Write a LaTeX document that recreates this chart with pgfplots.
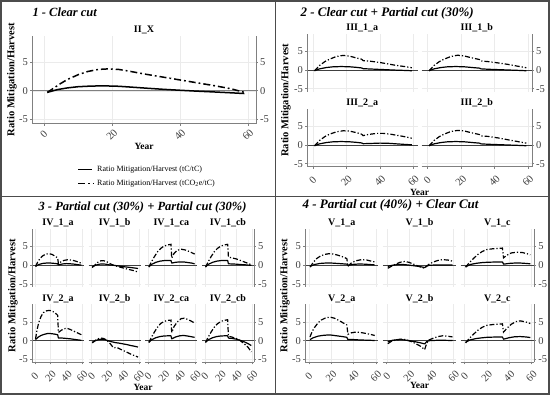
\documentclass[border=0pt]{standalone}
\usepackage{pgfplots}
\pgfplotsset{compat=1.18}
\usepackage{fontspec}
\setmainfont{Liberation Serif}
\tikzset{
  sol/.style={black, line width=1.2pt, line join=round},
  dd/.style={black, line width=1.2pt, dash pattern=on 5pt off 2pt on 1.2pt off 2pt},
  solA/.style={black, line width=1.5pt, line join=round},
  ddA/.style={black, line width=1.5pt, dash pattern=on 7pt off 3pt on 1.8pt off 3pt},
  spine/.style={draw=black!50, line width=0.6pt},
  zl/.style={draw=black!75, line width=0.8pt},
  zlA/.style={draw=black!50, line width=1.3pt},
  border/.style={draw=black!70, line width=1.6pt},
}
\newcommand\lspine{\draw[spine] (rel axis cs:0,0) -- (rel axis cs:0,1);}
\newcommand\rspine{\draw[spine] (rel axis cs:1,0) -- (rel axis cs:1,1);}
\newcommand\bspine{\draw[spine] (rel axis cs:0,0) -- (rel axis cs:1,0);}
\newcommand\zline{\draw[zl] (axis cs:-3.5,0) -- (axis cs:62.4,0);}
\pgfplotsset{
  facet/.style={scale only axis, clip=false,
    xmin=-3.5, xmax=62.4, ymin=-5.8, ymax=9.7,
    axis line style={draw=none}, tick align=outside, major tick length=2pt,
    tick style={draw=black!50, line width=0.5pt},
    xtick={0,20,40,60}, ytick={-5,0,5},
    grid=major, grid style={draw=black!8, line width=0.4pt},
    /pgf/number format/assume math mode=true,
    ticklabel style={font=\fontsize{10.5}{10.5}\selectfont, text=black!75},
    yticklabel style={inner sep=2pt},
    title style={font=\fontsize{10}{10}\selectfont\bfseries, anchor=center},
  },
  xtl/.style={xticklabel style={anchor=center, yshift=#1, rotate=45}},
  bottomrow/.style={xticklabels={0,20,40,60}, xtick pos=left, xtl=-12pt},
  toprow/.style={xticklabels={}, xtick style={draw=none}},
  leftcol/.style={yticklabels={-5,0,5}, ytick pos=left, yticklabel pos=left},
  rightcol/.style={yticklabels={-5,0,5}, ytick pos=right, yticklabel pos=right},
  midcol/.style={yticklabels={}, ytick style={draw=none}},
}
\begin{document}
\begin{tikzpicture}[x=1pt,y=1pt]
\path[use as bounding box] (0,0) rectangle (550,395);
\fill[white] (0,0) rectangle (550,395);

% ---------------- Panel 1 ----------------
\begin{axis}[facet, xticklabels={0,20,40,60}, xtick pos=left, xtl=-9pt, leftcol, at={(32pt,271.4pt)}, anchor=south west, width=224pt, height=87.9pt, title={II\_X}]
\draw[zlA] (axis cs:-3.5,0) -- (axis cs:62.4,0);
\addplot[solA] coordinates {(1,-0.3) (4,0.2) (7,0.5) (10,0.7) (14,0.82) (18,0.85) (22,0.78) (26,0.62) (30,0.45) (35,0.25) (40,0.08) (45,-0.08) (50,-0.22) (55,-0.37) (59,-0.5)};
\addplot[ddA] coordinates {(1,-0.3) (3,0.5) (5,1.3) (7,2.0) (10,2.8) (13,3.4) (16,3.75) (19,3.85) (22,3.75) (25,3.45) (30,2.9) (35,2.4) (40,1.9) (45,1.4) (50,0.9) (55,0.35) (59,-0.3)};
\lspine \rspine \bspine
\end{axis}
\begin{axis}[facet, toprow, rightcol, grid=none, at={(32pt,271.4pt)}, anchor=south west, width=224pt, height=87.9pt]
\end{axis}
\draw[solA] (78,225.7) -- (92,225.7);
\node[anchor=west, font=\fontsize{8}{9}\selectfont, inner sep=0pt] at (97,225.7) {Ratio Mitigation/Harvest (tC/tC)};
\draw[ddA] (78,211.3) -- (93,211.3);
\node[anchor=west, font=\fontsize{8}{9}\selectfont, inner sep=0pt] at (97,211.3) {Ratio Mitigation/Harvest (tCO\textsubscript{2}e/tC)};
\node[anchor=west, font=\fontsize{12.5}{14}\selectfont\bfseries\itshape] at (29,382.5) {1 - Clear cut};
\node[rotate=90, font=\fontsize{10.5}{12}\selectfont\bfseries] at (12,315.3) {Ratio Mitigation/Harvest};
\node[font=\fontsize{9.5}{10}\selectfont\bfseries] at (144,249) {Year};

% ---------------- Panel 2 ----------------
\begin{axis}[facet, toprow, leftcol, at={(307pt,303.3pt)}, anchor=south west, width=110.5pt, height=58pt, title={III\_1\_a}]
\zline
\addplot[sol] coordinates {(1,-0.2) (4,0.3) (8,0.65) (12,0.85) (17,0.92) (22,0.85) (26,0.7) (29,0.55) (30,0.35) (35,0.25) (40,0.15) (45,0.05) (50,-0.05) (55,-0.12) (59,-0.2)};
\addplot[dd] coordinates {(1,-0.2) (4,1.2) (7,2.2) (10,2.9) (14,3.6) (18,3.9) (22,3.7) (26,3.2) (29,2.9) (30,2.5) (35,2.3) (40,2.0) (45,1.6) (50,1.2) (55,0.9) (59,0.6)};
\lspine
\end{axis}
\begin{axis}[facet, toprow, rightcol, at={(421.5pt,303.3pt)}, anchor=south west, width=110.5pt, height=58pt, title={III\_1\_b}]
\zline
\addplot[sol] coordinates {(1,-0.2) (4,0.3) (8,0.65) (12,0.85) (17,0.92) (22,0.85) (27,0.65) (31,0.5) (32,0.3) (36,0.2) (42,0.1) (48,0) (54,-0.1) (59,-0.2)};
\addplot[dd] coordinates {(1,-0.2) (4,1.2) (7,2.2) (10,2.9) (14,3.6) (18,3.95) (22,3.75) (26,3.3) (31,2.8) (32,2.4) (36,2.25) (42,1.9) (48,1.5) (54,1.0) (59,0.6)};
\rspine
\end{axis}
\begin{axis}[facet, bottomrow, leftcol, at={(307pt,228.3pt)}, anchor=south west, width=110.5pt, height=58pt, title={III\_2\_a}]
\zline
\addplot[sol] coordinates {(1,-0.2) (4,0.3) (8,0.65) (12,0.85) (17,0.92) (22,0.85) (26,0.7) (29,0.55) (30,0.35) (34,0.4) (40,0.5) (45,0.45) (50,0.3) (55,0.15) (59,0.05)};
\addplot[dd] coordinates {(1,-0.2) (4,1.2) (7,2.2) (10,2.9) (14,3.5) (18,3.8) (22,3.7) (26,3.3) (29,2.9) (30,2.5) (33,2.8) (38,3.1) (42,3.1) (46,2.9) (50,2.6) (55,2.2) (59,1.8)};
\lspine \bspine
\end{axis}
\begin{axis}[facet, bottomrow, rightcol, at={(421.5pt,228.3pt)}, anchor=south west, width=110.5pt, height=58pt, title={III\_2\_b}]
\zline
\addplot[sol] coordinates {(1,-0.2) (4,0.3) (8,0.65) (12,0.85) (17,0.92) (22,0.85) (27,0.65) (31,0.5) (32,0.3) (36,0.2) (42,0.1) (48,0) (54,-0.1) (59,-0.2)};
\addplot[dd] coordinates {(1,-0.2) (4,1.2) (7,2.2) (10,2.9) (14,3.6) (18,3.9) (22,3.75) (26,3.3) (31,2.8) (32,2.4) (36,2.3) (42,1.9) (48,1.4) (54,0.9) (59,0.5)};
\rspine \bspine
\end{axis}
\node[anchor=west, font=\fontsize{13}{14}\selectfont\bfseries\itshape] at (297,381.7) {2 - Clear cut + Partial cut (30\%)};
\node[rotate=90, font=\fontsize{10.5}{12}\selectfont\bfseries] at (286,294.8) {Ratio Mitigation/Harvest};
\node[font=\fontsize{9.5}{10}\selectfont\bfseries] at (419.5,203) {Year};

% ---------------- Panel 3 ----------------
\begin{axis}[facet, toprow, leftcol, at={(32pt,108pt)}, anchor=south west, width=52pt, height=58pt, title={IV\_1\_a}]
\zline
\addplot[sol] coordinates {(1,-0.3) (5,0.2) (10,0.5) (15,0.6) (20,0.6) (25,0.5) (29,0.4) (30,0.1) (35,0.35) (40,0.45) (45,0.4) (50,0.3) (55,0.15) (59,0.05)};
\addplot[dd] coordinates {(1,-0.3) (4,1.0) (7,1.9) (10,2.5) (14,3.0) (18,3.1) (22,2.9) (26,2.4) (29,2.0) (30,0.4) (33,0.9) (37,1.3) (42,1.5) (47,1.4) (52,1.1) (56,0.8) (59,0.5)};
\lspine
\end{axis}
\begin{axis}[facet, toprow, midcol, at={(88.7pt,108pt)}, anchor=south west, width=52pt, height=58pt, title={IV\_1\_b}]
\zline
\addplot[sol] coordinates {(1,-0.4) (5,0) (10,0.3) (14,0.35) (18,0.3) (23,0.1) (28,0) (35,-0.2) (42,-0.4) (50,-0.6) (59,-0.85)};
\addplot[dd] coordinates {(1,-0.6) (4,0) (8,0.8) (12,1.2) (15,1.25) (19,1.0) (23,0.5) (28,0) (33,-0.3) (40,-0.7) (47,-1.1) (53,-1.4) (59,-1.8)};
\end{axis}
\begin{axis}[facet, toprow, midcol, at={(145.3pt,108pt)}, anchor=south west, width=52pt, height=58pt, title={IV\_1\_ca}]
\zline
\addplot[sol] coordinates {(1,-0.4) (5,0.3) (10,0.8) (15,1.1) (20,1.25) (25,1.3) (29,1.3) (30,0.6) (35,0.8) (40,0.9) (45,0.9) (50,0.75) (55,0.6) (59,0.4)};
\addplot[dd] coordinates {(1,-0.5) (4,0.8) (8,2.3) (12,3.6) (16,4.5) (20,5.1) (24,5.4) (29,5.6) (30,1.9) (33,3.2) (37,4.0) (42,4.3) (47,4.1) (52,3.7) (56,3.3) (59,3.0)};
\end{axis}
\begin{axis}[facet, toprow, rightcol, at={(202pt,108pt)}, anchor=south west, width=52pt, height=58pt, title={IV\_1\_cb}]
\zline
\addplot[sol] coordinates {(1,-0.4) (5,0.3) (10,0.8) (15,1.1) (20,1.25) (25,1.3) (29,1.3) (30,0.4) (35,0.35) (40,0.3) (45,0.2) (50,0.15) (55,0.05) (59,0)};
\addplot[dd] coordinates {(1,-0.5) (4,0.8) (8,2.3) (12,3.6) (16,4.5) (20,5.1) (24,5.4) (29,5.6) (30,2.2) (34,2.0) (40,1.7) (45,1.3) (50,0.9) (55,0.5) (59,0.1)};
\rspine
\end{axis}
\begin{axis}[facet, bottomrow, leftcol, at={(32pt,32.6pt)}, anchor=south west, width=52pt, height=58pt, title={IV\_2\_a}]
\zline
\addplot[sol] coordinates {(1,0.3) (4,0.9) (8,1.4) (12,1.7) (16,1.9) (20,1.9) (24,1.8) (29,1.6) (30,0.7) (35,0.7) (40,0.6) (45,0.5) (50,0.35) (55,0.2) (59,0.1)};
\addplot[dd] coordinates {(1,0.5) (3,3.0) (5,4.8) (8,6.5) (11,7.5) (15,8.0) (19,8.1) (23,7.8) (27,7.2) (29,6.8) (30,2.2) (33,2.7) (37,3.2) (41,3.3) (45,3.0) (50,2.5) (55,2.0) (59,1.6)};
\lspine \bspine
\end{axis}
\begin{axis}[facet, bottomrow, midcol, at={(88.7pt,32.6pt)}, anchor=south west, width=52pt, height=58pt, title={IV\_2\_b}]
\zline
\addplot[sol] coordinates {(1,-0.4) (5,0) (9,0.3) (13,0.4) (17,0.3) (21,0) (25,-0.25) (30,-0.5) (35,-0.65) (40,-0.85) (45,-1.05) (50,-1.3) (55,-1.5) (59,-1.7)};
\addplot[dd] coordinates {(1,-0.6) (5,0.1) (9,0.55) (12,0.7) (15,0.6) (19,0.2) (23,-0.6) (26,-1.4) (28,-1.9) (32,-1.8) (37,-2.3) (42,-2.8) (47,-3.3) (52,-3.8) (56,-4.1) (59,-4.4)};
\bspine
\end{axis}
\begin{axis}[facet, bottomrow, midcol, at={(145.3pt,32.6pt)}, anchor=south west, width=52pt, height=58pt, title={IV\_2\_ca}]
\zline
\addplot[sol] coordinates {(1,-0.4) (5,0.3) (10,0.8) (15,1.1) (20,1.25) (25,1.3) (29,1.3) (30,0.5) (35,1.0) (40,1.3) (45,1.4) (50,1.25) (55,1.05) (59,0.9)};
\addplot[dd] coordinates {(1,-0.5) (4,0.8) (8,2.3) (12,3.6) (16,4.6) (20,5.1) (24,5.4) (29,5.5) (30,2.2) (33,3.8) (37,5.0) (42,5.9) (46,6.0) (50,5.7) (55,5.2) (59,4.7)};
\bspine
\end{axis}
\begin{axis}[facet, bottomrow, rightcol, at={(202pt,32.6pt)}, anchor=south west, width=52pt, height=58pt, title={IV\_2\_cb}]
\zline
\addplot[sol] coordinates {(1,-0.4) (5,0.3) (10,0.8) (15,1.1) (20,1.25) (25,1.3) (29,1.3) (30,0.7) (35,0.6) (40,0.4) (45,0.1) (50,-0.3) (55,-0.8) (59,-1.3)};
\addplot[dd] coordinates {(1,-0.5) (4,0.8) (8,2.3) (12,3.6) (16,4.5) (20,5.1) (24,5.4) (29,5.6) (30,1.2) (34,1.0) (40,0.6) (45,0) (50,-0.8) (55,-1.8) (59,-3.0)};
\rspine \bspine
\end{axis}
\node[font=\fontsize{12.5}{14}\selectfont\bfseries\itshape] at (142.5,187.3) {3 - Partial cut (30\%) + Partial cut (30\%)};
\node[rotate=90, font=\fontsize{10.5}{12}\selectfont\bfseries] at (13,99.3) {Ratio Mitigation/Harvest};
\node[font=\fontsize{9.5}{10}\selectfont\bfseries] at (143,7.5) {Year};

% ---------------- Panel 4 ----------------
\begin{axis}[facet, toprow, leftcol, at={(305pt,108pt)}, anchor=south west, width=73.5pt, height=58pt, title={V\_1\_a}]
\zline
\addplot[sol] coordinates {(1,-0.3) (5,0.2) (10,0.5) (15,0.6) (20,0.6) (25,0.5) (30,0.4) (34,0.3) (35,0) (40,0.25) (45,0.35) (50,0.3) (55,0.2) (59,0.1)};
\addplot[dd] coordinates {(1,-0.5) (4,0.8) (7,1.8) (10,2.4) (14,2.9) (18,3.1) (22,3.0) (26,2.7) (30,2.3) (34,1.8) (35,-0.3) (38,0.6) (42,1.2) (47,1.5) (52,1.4) (56,1.1) (59,0.9)};
\lspine
\end{axis}
\begin{axis}[facet, toprow, midcol, at={(382.8pt,108pt)}, anchor=south west, width=73.5pt, height=58pt, title={V\_1\_b}]
\zline
\addplot[sol] coordinates {(1,-0.3) (5,0) (10,0.2) (15,0.2) (20,0.05) (25,-0.15) (30,-0.35) (34,-0.6) (36,-0.2) (38,0) (45,0.1) (52,0.1) (59,0.05)};
\addplot[dd] coordinates {(1,-0.8) (4,-0.3) (8,0.3) (12,0.8) (16,1.0) (20,0.8) (24,0.3) (28,-0.2) (31,-0.5) (34,-0.8) (36,-0.2) (38,0.3) (42,0.9) (46,1.3) (50,1.5) (55,1.4) (59,1.1)};
\end{axis}
\begin{axis}[facet, toprow, rightcol, at={(460.6pt,108pt)}, anchor=south west, width=73.5pt, height=58pt, title={V\_1\_c}]
\zline
\addplot[sol] coordinates {(1,-0.4) (5,0.2) (10,0.5) (15,0.7) (20,0.8) (25,0.85) (30,0.9) (34,0.9) (35,0.3) (40,0.5) (45,0.6) (50,0.6) (55,0.5) (59,0.4)};
\addplot[dd] coordinates {(1,-0.5) (4,0.6) (8,1.8) (12,2.9) (16,3.7) (20,4.2) (25,4.4) (30,4.5) (34,4.6) (35,2.0) (38,2.7) (42,3.3) (47,3.5) (52,3.4) (56,3.1) (59,2.8)};
\rspine
\end{axis}
\begin{axis}[facet, bottomrow, leftcol, at={(305pt,32.6pt)}, anchor=south west, width=73.5pt, height=58pt, title={V\_2\_a}]
\zline
\addplot[sol] coordinates {(1,0.3) (4,0.8) (8,1.2) (12,1.4) (16,1.5) (20,1.5) (25,1.3) (30,1.1) (34,0.9) (35,0.3) (40,0.3) (45,0.2) (50,0.15) (55,0.1) (59,0.05)};
\addplot[dd] coordinates {(1,1.0) (3,2.5) (5,3.5) (8,4.7) (11,5.5) (15,6.1) (19,6.3) (23,6.0) (27,5.4) (31,4.7) (34,4.2) (35,1.7) (38,2.1) (42,2.3) (46,2.2) (50,2.0) (55,1.7) (59,1.4)};
\lspine \bspine
\end{axis}
\begin{axis}[facet, bottomrow, midcol, at={(382.8pt,32.6pt)}, anchor=south west, width=73.5pt, height=58pt, title={V\_2\_b}]
\zline
\addplot[sol] coordinates {(1,-0.3) (5,0.1) (9,0.25) (13,0.3) (17,0.15) (21,-0.05) (25,-0.25) (30,-0.55) (34,-0.85) (36,-0.2) (38,0) (45,0.1) (52,0.1) (59,0.05)};
\addplot[dd] coordinates {(1,-0.8) (4,-0.2) (8,0.2) (12,0.4) (16,0.35) (20,0) (24,-0.5) (28,-1.1) (31,-1.6) (34,-2.4) (36,-0.6) (38,0.2) (42,0.7) (46,1.1) (50,1.3) (55,1.2) (59,1.0)};
\bspine
\end{axis}
\begin{axis}[facet, bottomrow, rightcol, at={(460.6pt,32.6pt)}, anchor=south west, width=73.5pt, height=58pt, title={V\_2\_c}]
\zline
\addplot[sol] coordinates {(1,-0.4) (5,0.2) (10,0.55) (15,0.75) (20,0.9) (25,0.95) (30,1.0) (34,1.0) (35,0.4) (40,0.8) (45,1.05) (50,1.1) (55,1.0) (59,0.85)};
\addplot[dd] coordinates {(1,-0.6) (4,0.5) (8,1.7) (12,2.8) (16,3.6) (20,4.1) (25,4.3) (30,4.4) (34,4.5) (35,2.3) (38,3.3) (42,4.4) (46,5.1) (50,5.3) (55,5.0) (59,4.6)};
\rspine \bspine
\end{axis}
\node[anchor=west, font=\fontsize{13}{14}\selectfont\bfseries\itshape] at (299,189.3) {4 - Partial cut (40\%) + Clear Cut};
\node[rotate=90, font=\fontsize{10.5}{12}\selectfont\bfseries] at (285,99.3) {Ratio Mitigation/Harvest};
\node[font=\fontsize{9.5}{10}\selectfont\bfseries] at (419.5,9.5) {Year};

% ---------------- Borders ----------------
\draw[border] (0.8,0.8) rectangle (549.2,394.2);
\draw[border] (275.5,0) -- (275.5,395);
\draw[border] (0,198.3) -- (550,198.3);
\end{tikzpicture}
\end{document}
